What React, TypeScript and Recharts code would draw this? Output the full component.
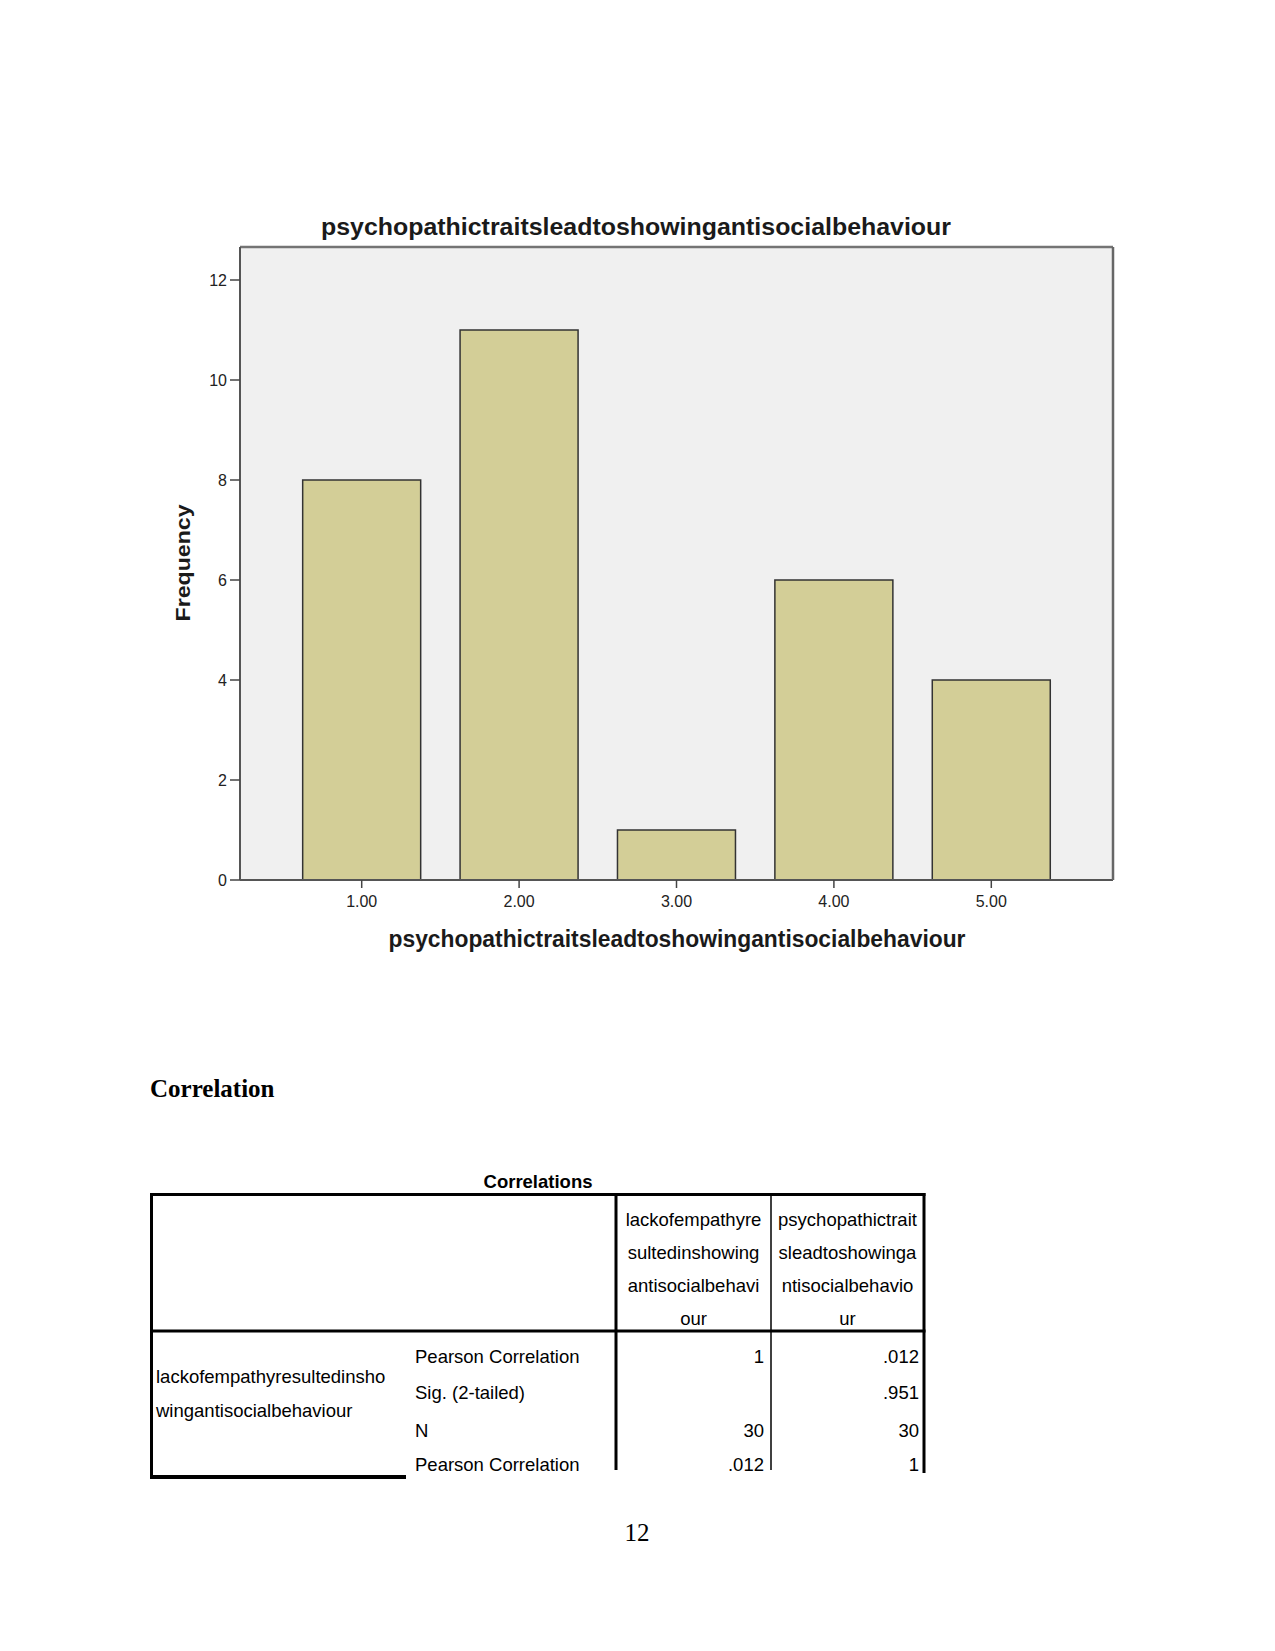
import React from "react";
import { BarChart, Bar, XAxis, YAxis, CartesianGrid } from "recharts";

// histogram values
const categories = ["1.00", "2.00", "3.00", "4.00", "5.00"];
const frequencies = [8, 11, 1, 6, 4];
const yTicks = [0, 2, 4, 6, 8, 10, 12];
const chartTitle = "psychopathictraitsleadtoshowingantisocialbehaviour";
const xTitle = "psychopathictraitsleadtoshowingantisocialbehaviour";
const yTitle = "Frequency";

// correlation table below the chart
const headerCol1 = ["lackofempathyre", "sultedinshowing", "antisocialbehavi", "our"];
const headerCol2 = ["psychopathictrait", "sleadtoshowinga", "ntisocialbehavio", "ur"];
const rowLabel = ["lackofempathyresultedinsho", "wingantisocialbehaviour"];
const statLabels = ["Pearson Correlation", "Sig. (2-tailed)", "N", "Pearson Correlation"];
const col1Values = ["1", "", "30", ".012"];
const col2Values = [".012", ".951", "30", "1"];

const data = categories.map((c, i) => ({ category: c, frequency: frequencies[i] }));

const sans = "'Liberation Sans', Arial, sans-serif";
const serif = "'Liberation Serif', 'Times New Roman', serif";

const headerBase = [1226, 1259, 1292, 1325];
const bodyBase = [1363, 1399, 1437, 1471];

export default function App() {
  return (
    <div
      style={{
        position: "absolute",
        left: 0,
        top: 0,
        width: 1275,
        height: 1651,
        background: "#fff",
        overflow: "hidden",
      }}
    >
      <div style={{ position: "absolute", left: 0, top: 0 }}>
        <BarChart
          width={1275}
          height={1000}
          data={data}
          margin={{ top: 246, right: 161, left: 180, bottom: 80 }}
          barCategoryGap="12.5%"
        >
          <CartesianGrid fill="#f0f0f0" horizontal={false} vertical={false} />
          <XAxis
            dataKey="category"
            padding={{ left: 43, right: 43 }}
            height={40}
            tickSize={8}
            tickMargin={8}
            tick={{ fontSize: 16, fill: "#222", fontFamily: sans }}
            tickLine={{ stroke: "#444", strokeWidth: 1.5 }}
            axisLine={{ stroke: "#555", strokeWidth: 2 }}
          />
          <XAxis
            xAxisId="top"
            orientation="top"
            dataKey="category"
            height={1}
            tick={false}
            tickLine={false}
            axisLine={{ stroke: "#747474", strokeWidth: 2.5 }}
          />
          <YAxis
            domain={[0, 12.66]}
            ticks={yTicks}
            width={60}
            tickSize={10}
            tickMargin={3}
            tick={{ fontSize: 16, fill: "#222", fontFamily: sans }}
            tickLine={{ stroke: "#444", strokeWidth: 1.5 }}
            axisLine={{ stroke: "#555", strokeWidth: 2 }}
          />
          <YAxis
            yAxisId="right"
            orientation="right"
            domain={[0, 12.66]}
            width={1}
            tick={false}
            tickLine={false}
            axisLine={{ stroke: "#666", strokeWidth: 2.5 }}
          />
          <Bar
            dataKey="frequency"
            fill="#d3ce97"
            stroke="#333"
            strokeWidth={1.5}
            isAnimationActive={false}
          />
        </BarChart>
      </div>

      <svg
        width={1275}
        height={1651}
        style={{ position: "absolute", left: 0, top: 0, pointerEvents: "none" }}
      >
        {/* chart titles */}
        <text
          x={636}
          y={235}
          textAnchor="middle"
          fontFamily={sans}
          fontWeight="bold"
          fontSize={23}
          fill="#1a1a1a"
          textLength={630}
          lengthAdjust="spacingAndGlyphs"
        >
          {chartTitle}
        </text>
        <text
          x={677}
          y={947}
          textAnchor="middle"
          fontFamily={sans}
          fontWeight="bold"
          fontSize={23}
          fill="#1a1a1a"
          textLength={577}
          lengthAdjust="spacingAndGlyphs"
        >
          {xTitle}
        </text>
        <text
          x={190}
          y={563}
          transform="rotate(-90 190 563)"
          textAnchor="middle"
          fontFamily={sans}
          fontWeight="bold"
          fontSize={21}
          fill="#1a1a1a"
          textLength={117}
          lengthAdjust="spacingAndGlyphs"
        >
          {yTitle}
        </text>

        {/* section heading */}
        <text x={150} y={1097} fontFamily={serif} fontWeight="bold" fontSize={25} fill="#000">
          Correlation
        </text>

        {/* table */}
        <text
          x={538}
          y={1188}
          textAnchor="middle"
          fontFamily={sans}
          fontWeight="bold"
          fontSize={18.5}
          fill="#000"
        >
          Correlations
        </text>
        <g stroke="#000" fill="none">
          <line x1={150} y1={1194.5} x2={925.5} y2={1194.5} strokeWidth={3} />
          <line x1={151.5} y1={1193} x2={151.5} y2={1479} strokeWidth={3} />
          <line x1={924} y1={1193} x2={924} y2={1473} strokeWidth={3} />
          <line x1={150} y1={1331} x2={925.5} y2={1331} strokeWidth={3} />
          <line x1={616} y1={1193} x2={616} y2={1470} strokeWidth={3} />
          <line x1={771} y1={1193} x2={771} y2={1470} strokeWidth={1.5} />
          <line x1={150} y1={1477} x2={406} y2={1477} strokeWidth={4} />
        </g>
        <g fontFamily={sans} fontSize={18.5} fill="#000">
          {headerCol1.map((t, i) => (
            <text key={"h1" + i} x={693.5} y={headerBase[i]} textAnchor="middle">
              {t}
            </text>
          ))}
          {headerCol2.map((t, i) => (
            <text key={"h2" + i} x={847.5} y={headerBase[i]} textAnchor="middle">
              {t}
            </text>
          ))}
          {rowLabel.map((t, i) => (
            <text key={"r" + i} x={156} y={1383 + i * 34}>
              {t}
            </text>
          ))}
          {statLabels.map((t, i) => (
            <text key={"s" + i} x={415} y={bodyBase[i]}>
              {t}
            </text>
          ))}
          {col1Values.map((t, i) => (
            <text key={"c1" + i} x={764} y={bodyBase[i]} textAnchor="end">
              {t}
            </text>
          ))}
          {col2Values.map((t, i) => (
            <text key={"c2" + i} x={919} y={bodyBase[i]} textAnchor="end">
              {t}
            </text>
          ))}
        </g>

        {/* page number */}
        <text x={637} y={1541} textAnchor="middle" fontFamily={serif} fontSize={25} fill="#000">
          12
        </text>
      </svg>
    </div>
  );
}
